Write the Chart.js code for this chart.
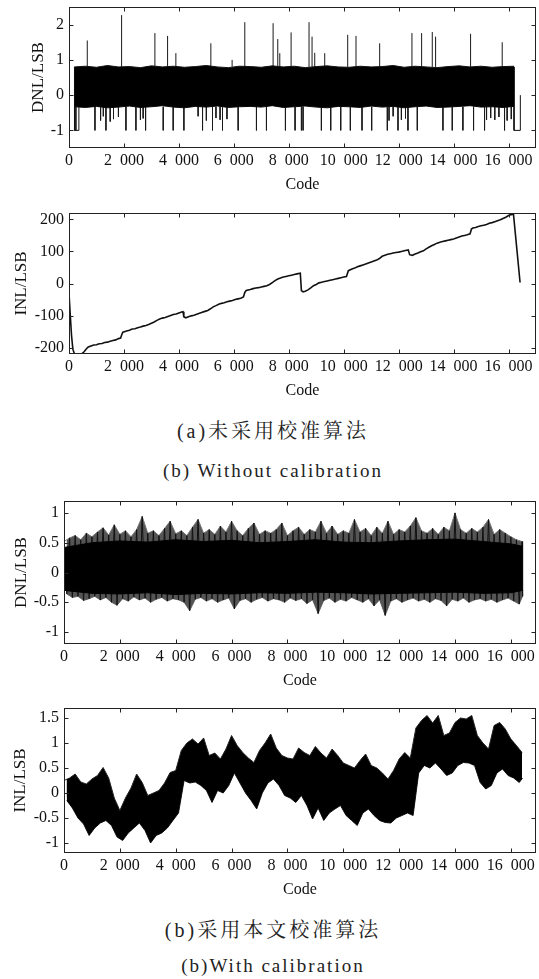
<!DOCTYPE html>
<html>

<head>
    <meta charset="UTF-8">
    <title>DNL / INL</title>
    <script src="https://cdn.jsdelivr.net/npm/chart.js"></script>
    <style>
        body { margin: 0; background: #fff; width: 539px; height: 979px; position: relative; overflow: hidden; }
        .panel { position: absolute; left: 0; width: 539px; }
        .caption { position: absolute; left: 0; width: 546px; text-align: center; line-height: 24px; color: #222; white-space: pre; }
        .cn { font-family: "Liberation Serif", "Noto Serif CJK SC", serif; font-size: 20px; letter-spacing: 3px; }
        .en { font-family: "Liberation Serif", serif; font-size: 19px; letter-spacing: 2px; }
    </style>
</head>

<body>
    <div class="panel" style="top:0;height:194px"><canvas id="dnl_a"></canvas></div>
    <div class="panel" style="top:200px;height:200px"><canvas id="inl_a"></canvas></div>
    <div class="caption cn" style="top:419px">(a)未采用校准算法</div>
    <div class="caption en" style="top:459px">(b) Without calibration</div>
    <div class="panel" style="top:490px;height:200px"><canvas id="dnl_b"></canvas></div>
    <div class="panel" style="top:695px;height:204px"><canvas id="inl_b"></canvas></div>
    <div class="caption cn" style="top:918px">(b)采用本文校准算法</div>
    <div class="caption en" style="top:954px">(b)With calibration</div>
    <script>
        // x axis (shared)
        const codeTicks = [0, 2000, 4000, 6000, 8000, 10000, 12000, 14000, 16000];
        const codeTickLabels = ['0', '2\u2002000', '4\u2002000', '6\u2002000', '8\u2002000',
            '10\u2002000', '12\u2002000', '14\u2002000', '16\u2002000'];

        // y ticks per panel
        const dnlATicks = [-1, 0, 1, 2];
        const inlATicks = [-200, -100, 0, 100, 200];
        const dnlBTicks = [-1, -0.5, 0, 0.5, 1];
        const inlBTicks = [-1, -0.5, 0, 0.5, 1, 1.5];

        // (a) DNL without calibration: dense band + spikes
        const dnlA_bandX = [200, 600, 1000, 1400, 1800, 2200, 2600, 3000, 3400, 3800,
            4200, 4600, 5000, 5400, 5800, 6200, 6600, 7000, 7400, 7800,
            8200, 8600, 9000, 9400, 9800, 10200, 10600, 11000, 11400, 11800,
            12200, 12600, 13000, 13400, 13800, 14200, 14600, 15000, 15400, 15800, 16200];
        const dnlA_bandHi = [0.80, 0.82, 0.79, 0.84, 0.80, 0.81, 0.78, 0.83, 0.80, 0.82,
            0.79, 0.81, 0.84, 0.80, 0.78, 0.82, 0.81, 0.79, 0.83, 0.80,
            0.82, 0.78, 0.81, 0.83, 0.80, 0.79, 0.82, 0.80, 0.81, 0.84,
            0.79, 0.82, 0.80, 0.78, 0.81, 0.83, 0.80, 0.82, 0.79, 0.81, 0.82];
        const dnlA_bandLo = [-0.33, -0.35, -0.32, -0.36, -0.34, -0.31, -0.35, -0.33, -0.30, -0.34,
            -0.36, -0.32, -0.34, -0.31, -0.35, -0.33, -0.32, -0.34, -0.30, -0.35,
            -0.33, -0.31, -0.34, -0.36, -0.32, -0.33, -0.35, -0.31, -0.34, -0.32,
            -0.36, -0.33, -0.31, -0.35, -0.34, -0.32, -0.30, -0.34, -0.33, -0.35, -0.32];
        const dnlA_spikeX = [665, 1915, 3127, 3589, 3890, 5164, 5938, 6400, 7430, 7600,
            7673, 8085, 8738, 8848, 8945, 9309, 10145, 10448, 11309, 12484,
            12836, 13224, 13345, 14618, 15770,
            250, 945, 1345, 2073, 2436, 2788, 3430, 3793, 4182, 4861,
            5224, 5588, 6158, 6824, 7188, 7879, 8230, 8461, 8521, 9188,
            9527, 9891, 10242, 10667, 11018, 11588, 11976, 12339, 12679, 13612,
            13952, 14339, 14727, 15127, 15855,
            1150, 1250, 1500, 1620, 1800, 2600, 2700, 4700, 5000, 5350,
            5500, 5750, 11650, 11800, 12100, 12250, 15200, 15350, 15500, 15650, 15950, 16100];
        const dnlA_spikeY = [1.55, 2.27, 1.76, 1.68, 1.19, 1.47, 1.0, 2.07, 2.04, 1.59,
            1.19, 1.78, 2.07, 1.66, 1.2, 1.19, 1.71, 1.68, 1.47, 1.76,
            1.76, 1.79, 1.66, 1.74, 1.5,
            -1, -1, -1, -1, -1, -1, -1, -1, -1, -1,
            -1, -1, -1, -1, -1, -1, -1, -1, -1, -1,
            -1, -1, -1, -1, -1, -1, -1, -1, -1, -1,
            -1, -1, -1, -1, -1,
            -0.72, -0.6, -0.75, -0.68, -0.62, -0.7, -0.66, -0.6, -0.72, -0.65,
            -0.7, -0.68, -0.72, -0.6, -0.7, -0.66, -0.7, -0.65, -0.7, -0.62, -0.72, -0.68];
        const dnlA_headX = [200, 200, 360, 360];
        const dnlA_headY = [0.8, -1, -1, -0.33];
        const dnlA_tailX = [16200, 16200, 16430, 16430];
        const dnlA_tailY = [0.8, -1, -1, 0];

        // (a) INL without calibration
        const inlA_code = [0, 40, 90, 140, 200, 300, 450, 550, 620, 700, 800, 900, 1000, 1100, 1200,
            1300, 1400, 1500, 1600, 1700, 1800, 1880, 1920, 1960, 2100, 2200, 2300, 2400, 2500, 2600,
            2700, 2800, 2900, 3000, 3100, 3200, 3300, 3400, 3500, 3600, 3700, 3800, 3900, 4000, 4100,
            4150, 4180, 4250, 4350, 4450, 4550, 4650, 4750, 4850, 4950, 5050, 5150, 5250, 5350, 5450,
            5550, 5650, 5750, 5850, 5950, 6050, 6150, 6250, 6350, 6400, 6450, 6600, 6700, 6800, 6900,
            7000, 7100, 7200, 7300, 7400, 7500, 7600, 7700, 7800, 7900, 8000, 8100, 8200, 8300, 8420,
            8460, 8520, 8600, 8700, 8800, 8900, 9000, 9100, 9200, 9300, 9400, 9500, 9600, 9700, 9800,
            9900, 10000, 10100, 10170, 10300, 10400, 10500, 10600, 10700, 10800, 10900, 11000, 11100, 11200, 11300,
            11400, 11500, 11600, 11700, 11800, 11900, 12000, 12100, 12200, 12350, 12400, 12500, 12600, 12700, 12800,
            12900, 13000, 13100, 13200, 13300, 13400, 13500, 13600, 13700, 13800, 13900, 14000, 14100, 14200, 14300,
            14400, 14500, 14600, 14650, 14700, 14800, 14900, 15000, 15100, 15200, 15300, 15400, 15500, 15600, 15700,
            15800, 15900, 16000, 16100, 16180, 16420];
        const inlA_val = [-30, -90, -160, -205, -220, -221, -220, -213, -205, -198, -195, -192, -191, -188, -187,
            -184, -183, -180, -178, -176, -172, -170, -160, -152, -148, -146, -142, -141, -138, -136,
            -133, -131, -128, -124, -120, -115, -111, -108, -106, -103, -100, -97, -95, -92, -89,
            -88, -104, -107, -104, -101, -99, -96, -93, -90, -87, -84, -79, -73, -69, -65,
            -62, -60, -57, -55, -53, -50, -48, -46, -42, -28, -22, -19, -16, -14, -13,
            -11, -9, -7, -3, 3, 9, 14, 17, 20, 22, 24, 26, 28, 30, 32,
            -22, -26, -24, -20, -14, -7, -3, 2, 4, 6, 8, 10, 12, 14, 16,
            18, 20, 22, 40, 45, 48, 52, 55, 58, 61, 64, 67, 70, 73, 78,
            85, 88, 91, 93, 95, 97, 98, 100, 102, 105, 90, 88, 92, 95, 99,
            102, 108, 113, 118, 122, 126, 129, 131, 133, 135, 137, 139, 142, 145, 148,
            150, 152, 155, 170, 173, 175, 178, 180, 182, 184, 188, 190, 193, 196, 199,
            203, 207, 212, 215, 216, 3];

        // (b) sampling grid for the calibrated curves
        const codeGrid = [0, 200, 400, 600, 800, 1000, 1200, 1400, 1600, 1800,
            2000, 2200, 2400, 2600, 2800, 3000, 3200, 3400, 3600, 3800,
            4000, 4200, 4400, 4600, 4800, 5000, 5200, 5400, 5600, 5800,
            6000, 6200, 6400, 6600, 6800, 7000, 7200, 7400, 7600, 7800,
            8000, 8200, 8400, 8600, 8800, 9000, 9200, 9400, 9600, 9800,
            10000, 10200, 10400, 10600, 10800, 11000, 11200, 11400, 11600, 11800,
            12000, 12200, 12400, 12600, 12800, 13000, 13200, 13400, 13600, 13800,
            14000, 14200, 14400, 14600, 14800, 15000, 15200, 15400, 15600, 15800,
            16000, 16200, 16400];
        const lastCode = 16420;

        // (b) DNL with calibration: outer peaks / troughs and dense core
        const dnlB_hi = [0.52, 0.58, 0.62, 0.55, 0.66, 0.60, 0.68, 0.75, 0.63, 0.80,
            0.64, 0.70, 0.60, 0.72, 0.94, 0.66, 0.70, 0.62, 0.74, 0.86,
            0.65, 0.70, 0.62, 0.76, 0.89, 0.66, 0.72, 0.64, 0.78, 0.68,
            0.86, 0.70, 0.62, 0.74, 0.83, 0.64, 0.70, 0.66, 0.72, 0.83,
            0.62, 0.70, 0.76, 0.64, 0.72, 0.68, 0.86, 0.66, 0.78, 0.64,
            0.70, 0.66, 0.89, 0.68, 0.74, 0.62, 0.76, 0.66, 0.86, 0.64,
            0.72, 0.68, 0.78, 0.92, 0.70, 0.66, 0.74, 0.64, 0.76, 0.70,
            1.00, 0.72, 0.66, 0.74, 0.68, 0.76, 0.89, 0.64, 0.72, 0.66,
            0.60, 0.55, 0.52];
        const dnlB_lo = [-0.36, -0.42, -0.40, -0.47, -0.44, -0.40, -0.46, -0.42, -0.50, -0.55,
            -0.44, -0.48, -0.41, -0.46, -0.43, -0.50, -0.45, -0.42, -0.48, -0.44,
            -0.46, -0.50, -0.64, -0.45, -0.42, -0.48, -0.44, -0.50, -0.46, -0.43,
            -0.61, -0.47, -0.44, -0.50, -0.45, -0.42, -0.48, -0.44, -0.46, -0.50,
            -0.43, -0.47, -0.44, -0.52, -0.46, -0.69, -0.47, -0.43, -0.50, -0.45,
            -0.48, -0.42, -0.46, -0.50, -0.44, -0.56, -0.46, -0.72, -0.48, -0.44,
            -0.50, -0.46, -0.43, -0.48, -0.45, -0.50, -0.44, -0.47, -0.56, -0.45,
            -0.48, -0.43, -0.50, -0.46, -0.44, -0.48, -0.45, -0.50, -0.46, -0.43,
            -0.48, -0.53, -0.40];
        const dnlB_coreX = [0, 1000, 2000, 3000, 4000, 5000, 6000, 7000, 8000, 9000,
            10000, 11000, 12000, 13000, 14000, 15000, 16000, 16420];
        const dnlB_coreHi = [0.42, 0.50, 0.53, 0.51, 0.55, 0.52, 0.54, 0.50, 0.52, 0.55,
            0.51, 0.50, 0.53, 0.55, 0.56, 0.52, 0.48, 0.44];
        const dnlB_coreLo = [-0.30, -0.35, -0.36, -0.34, -0.37, -0.35, -0.36, -0.34, -0.35, -0.33,
            -0.34, -0.36, -0.35, -0.34, -0.33, -0.35, -0.34, -0.30];

        // (b) INL with calibration: upper / lower edge of the noisy trace
        const inlB_hi = [0.25, 0.30, 0.38, 0.22, 0.18, 0.28, 0.35, 0.51, 0.30, -0.10,
            -0.35, -0.10, 0.10, 0.38, 0.21, -0.05, 0.00, 0.05, 0.20, 0.41,
            0.45, 0.85, 1.00, 1.08, 0.98, 1.10, 0.75, 0.80, 0.68, 0.88,
            1.15, 0.95, 0.81, 0.70, 0.61, 0.85, 1.00, 1.18, 0.90, 0.75,
            0.70, 0.68, 0.90, 0.81, 0.75, 0.93, 0.80, 0.70, 0.88, 0.75,
            0.60, 0.55, 0.50, 0.65, 0.78, 0.55, 0.50, 0.40, 0.28, 0.45,
            0.68, 0.81, 0.70, 1.30, 1.45, 1.55, 1.40, 1.55, 1.15, 1.20,
            1.41, 1.50, 1.48, 1.55, 1.15, 1.00, 0.88, 1.35, 1.41, 1.28,
            1.08, 0.95, 0.81];
        const inlB_lo = [-0.15, -0.30, -0.50, -0.62, -0.85, -0.70, -0.60, -0.55, -0.65, -0.88,
            -0.95, -0.80, -0.70, -0.60, -0.75, -1.00, -0.85, -0.80, -0.70, -0.55,
            -0.40, 0.25, 0.20, 0.22, 0.15, 0.05, -0.19, 0.05, 0.00, 0.15,
            0.40, 0.20, 0.00, -0.15, -0.32, 0.00, 0.20, 0.28, 0.15, -0.05,
            -0.10, -0.19, -0.05, -0.25, -0.52, -0.30, -0.55, -0.40, -0.32, -0.25,
            -0.45, -0.55, -0.65, -0.40, -0.32, -0.45, -0.55, -0.59, -0.60, -0.50,
            -0.45, -0.40, -0.45, 0.40, 0.55, 0.50, 0.60, 0.48, 0.35, 0.40,
            0.55, 0.61, 0.60, 0.55, 0.21, 0.08, 0.15, 0.40, 0.48, 0.35,
            0.30, 0.21, 0.30];

        let charts = {};

        const serif = '"Liberation Serif", "Times New Roman", serif';
        const tickFont = { family: serif, size: 16 };
        const codeFont = { family: serif, size: 16 };
        const yTitleFont = { family: serif, size: 17 };

        // box round the plot with inward ticks on all four sides
        const framePlugin = {
            id: 'frame',
            afterDraw(chart) {
                const { ctx, chartArea: a, scales } = chart;
                const l = Math.round(a.left) + 0.5, r = Math.round(a.right) - 0.5;
                const t = Math.round(a.top) + 0.5, b = Math.round(a.bottom) - 0.5;
                ctx.save();
                ctx.strokeStyle = '#222';
                ctx.lineWidth = 1;
                ctx.strokeRect(l, t, r - l, b - t);
                ctx.beginPath();
                scales.x.ticks.forEach(tk => {
                    const px = Math.round(scales.x.getPixelForValue(tk.value)) + 0.5;
                    ctx.moveTo(px, b); ctx.lineTo(px, b - 4);
                    ctx.moveTo(px, t); ctx.lineTo(px, t + 4);
                });
                scales.y.ticks.forEach(tk => {
                    const py = Math.round(scales.y.getPixelForValue(tk.value)) + 0.5;
                    ctx.moveTo(l, py); ctx.lineTo(l + 4, py);
                    ctx.moveTo(r, py); ctx.lineTo(r - 4, py);
                });
                ctx.stroke();
                ctx.restore();
            }
        };

        function points(xs, ys) {
            return xs.map((x, i) => ({ x: x, y: ys[i] }));
        }

        // trough of each bin sits half a bin to the right of its peak
        function troughs(xs, ys) {
            return xs.map((x, i) => ({ x: Math.min(x + 100, lastCode), y: ys[i] }));
        }

        // vertical strokes from the band edge out to each spike value
        function spikeSegments(xs, ys, upBase, downBase) {
            const pts = [];
            xs.forEach((x, i) => {
                pts.push({ x: x, y: ys[i] > 0 ? upBase : downBase }, { x: x, y: ys[i] }, { x: x, y: null });
            });
            return pts;
        }

        // alternate between the peak and trough of each bin
        function zigzag(xs, hi, lo) {
            const pts = [];
            xs.forEach((x, i) => {
                pts.push({ x: x, y: hi[i] }, { x: Math.min(x + 100, lastCode), y: lo[i] });
            });
            return pts;
        }

        function renderPanel(canvasId, datasets, cfg) {
            const ctx = document.getElementById(canvasId).getContext('2d');
            charts[canvasId] = new Chart(ctx, {
                type: 'line',
                data: { datasets: datasets },
                options: {
                    responsive: true,
                    maintainAspectRatio: false,
                    animation: false,
                    events: [],
                    layout: { padding: { top: cfg.padTop, right: 3, bottom: 0, left: 0 } },
                    elements: { point: { radius: 0 }, line: { borderWidth: 1, tension: 0 } },
                    plugins: { legend: { display: false }, tooltip: { enabled: false } },
                    scales: {
                        x: {
                            type: 'linear',
                            min: 0,
                            max: cfg.xMax,
                            afterBuildTicks: s => { s.ticks = codeTicks.map(v => ({ value: v })); },
                            afterFit: s => { s.height = 46; s.paddingLeft = 0; s.paddingRight = 0; },
                            grid: { display: false, drawTicks: false },
                            border: { display: false },
                            ticks: {
                                padding: 3, maxRotation: 0, autoSkip: false, color: '#111', font: tickFont,
                                callback: v => codeTickLabels[codeTicks.indexOf(v)]
                            },
                            title: { display: true, text: 'Code', color: '#111', font: codeFont, padding: 0 }
                        },
                        y: {
                            min: cfg.yMin,
                            max: cfg.yMax,
                            afterBuildTicks: s => { s.ticks = cfg.yTicks.map(v => ({ value: v })); },
                            afterFit: s => { s.width = cfg.yAxisW; s.paddingTop = 0; s.paddingBottom = 0; },
                            grid: { display: false, drawTicks: false },
                            border: { display: false },
                            ticks: { padding: 5, color: '#111', font: tickFont, callback: v => String(v) },
                            title: {
                                display: true, text: cfg.yTitle, color: '#111', font: yTitleFont,
                                padding: { top: cfg.titlePad, bottom: 0 }
                            }
                        }
                    }
                },
                plugins: [framePlugin]
            });
        }

        renderPanel('dnl_a', [
            { data: points(dnlA_bandX, dnlA_bandHi), borderColor: '#111', backgroundColor: '#000', fill: '+1' },
            { data: points(dnlA_bandX, dnlA_bandLo), borderColor: '#111', fill: false },
            { data: spikeSegments(dnlA_spikeX, dnlA_spikeY, 0.8, -0.33), borderColor: '#1a1a1a', spanGaps: false, fill: false },
            { data: points(dnlA_headX, dnlA_headY), borderColor: '#111', fill: false },
            { data: points(dnlA_tailX, dnlA_tailY), borderColor: '#111', fill: false }
        ], { padTop: 7, xMax: 17000, yMin: -1.5, yMax: 2.5, yTicks: dnlATicks, yAxisW: 69, yTitle: 'DNL/LSB', titlePad: 28 });

        renderPanel('inl_a', [
            { data: points(inlA_code, inlA_val), borderColor: '#111', borderWidth: 1.6, fill: false }
        ], { padTop: 13, xMax: 17000, yMin: -220, yMax: 220, yTicks: inlATicks, yAxisW: 69, yTitle: 'INL/LSB', titlePad: 11 });

        renderPanel('dnl_b', [
            { data: points(dnlB_coreX, dnlB_coreHi), borderColor: '#000', backgroundColor: '#000', fill: '+1' },
            { data: points(dnlB_coreX, dnlB_coreLo), borderColor: '#000', fill: false },
            { data: zigzag(codeGrid, dnlB_hi, dnlB_lo), borderColor: '#111', fill: false },
            { data: points(codeGrid, dnlB_hi), borderColor: '#777', backgroundColor: '#555', fill: '+1' },
            { data: troughs(codeGrid, dnlB_lo), borderColor: '#777', fill: false }
        ], { padTop: 11, xMax: 16900, yMin: -1.2, yMax: 1.2, yTicks: dnlBTicks, yAxisW: 64, yTitle: 'DNL/LSB', titlePad: 11 });

        renderPanel('inl_b', [
            { data: points(codeGrid, inlB_hi), borderColor: '#222', backgroundColor: '#000', fill: '+1' },
            { data: troughs(codeGrid, inlB_lo), borderColor: '#222', fill: false }
        ], { padTop: 13, xMax: 16900, yMin: -1.2, yMax: 1.7, yTicks: inlBTicks, yAxisW: 64, yTitle: 'INL/LSB', titlePad: 10 });
    </script>
</body>

</html>
